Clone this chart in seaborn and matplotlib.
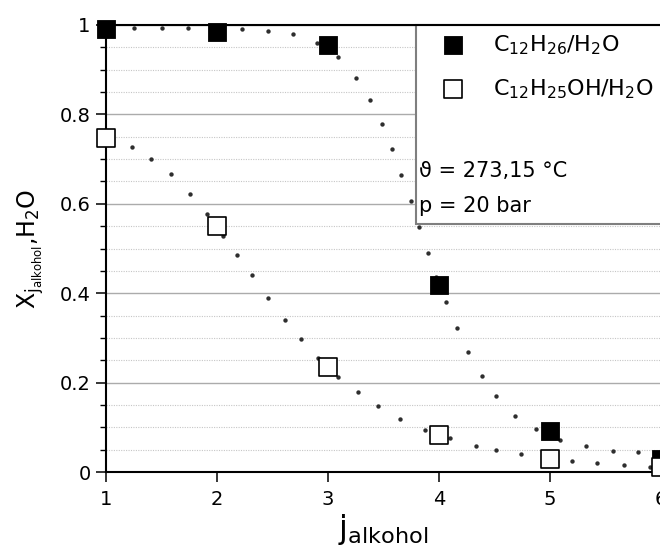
import matplotlib
matplotlib.use("Agg")
import matplotlib.pyplot as plt
from matplotlib.patches import Rectangle
from matplotlib.ticker import FixedLocator, MultipleLocator
import pandas as pd
import seaborn as sns

# Measured mole fractions at each alcohol index j
j_alkohol = [1, 2, 3, 4, 5, 6]
x_dodecane = [0.992, 0.985, 0.955, 0.418, 0.092, 0.030]
x_dodecanol = [0.748, 0.550, 0.236, 0.083, 0.029, 0.011]

# Model curves, sampled points
model_j_dodecane = [1.02, 1.255, 1.502, 1.737, 1.98, 2.229, 2.458, 2.686, 2.905, 3.092,
                    3.252, 3.380, 3.482, 3.576, 3.660, 3.744, 3.824, 3.899, 3.976,
                    4.066, 4.159, 4.264, 4.386, 4.515, 4.688, 4.875, 5.094, 5.321,
                    5.569, 5.792]
model_x_dodecane = [0.993, 0.993, 0.993, 0.993, 0.992, 0.990, 0.987, 0.979, 0.959, 0.928,
                    0.882, 0.832, 0.779, 0.723, 0.665, 0.607, 0.549, 0.491, 0.436,
                    0.380, 0.323, 0.268, 0.215, 0.170, 0.126, 0.096, 0.072, 0.058,
                    0.048, 0.044]
model_j_dodecanol = [1.232, 1.406, 1.586, 1.757, 1.908, 2.058, 2.184, 2.314, 2.463, 2.617,
                     2.758, 2.909, 3.087, 3.266, 3.450, 3.645, 3.870, 4.096, 4.330,
                     4.517, 4.742, 4.977, 5.202, 5.425, 5.671, 5.899]
model_x_dodecanol = [0.726, 0.701, 0.666, 0.623, 0.578, 0.528, 0.485, 0.441, 0.390, 0.340,
                     0.298, 0.256, 0.213, 0.178, 0.148, 0.119, 0.094, 0.075, 0.059,
                     0.049, 0.040, 0.031, 0.025, 0.020, 0.015, 0.011]

series_labels = [r"C$_{12}$H$_{26}$/H$_2$O", r"C$_{12}$H$_{25}$OH/H$_2$O"]
y_ticks = [0, 0.2, 0.4, 0.6, 0.8, 1.0]
y_tick_labels = ["0", "0.2", "0.4", "0.6", "0.8", "1"]
x_ticks = [1, 2, 3, 4, 5, 6]
conditions = ["\u03d1 = 273,15 \u00b0C", "p = 20 bar"]

measured = pd.DataFrame({"j": j_alkohol, "dodecane": x_dodecane, "dodecanol": x_dodecanol})
curve_a = pd.DataFrame({"j": model_j_dodecane, "x": model_x_dodecane})
curve_b = pd.DataFrame({"j": model_j_dodecanol, "x": model_x_dodecanol})

sns.set_style("ticks")
plt.rcParams["font.family"] = ["DejaVu Sans"]
plt.rcParams["mathtext.default"] = "regular"
plt.rcParams["text.color"] = "black"
plt.rcParams["axes.labelcolor"] = "black"
plt.rcParams["xtick.color"] = "black"
plt.rcParams["ytick.color"] = "black"

W, H = 660, 552
fig = plt.figure(figsize=(W / 100, H / 100), dpi=100)
ax = fig.add_axes([106 / W, 80 / H, 555 / W, 447 / H])

# dotted model curves
for df in (curve_a, curve_b):
    sns.scatterplot(data=df, x="j", y="x", ax=ax, marker="o", s=10, color="#2e2e2e",
                    linewidth=0, zorder=3, legend=False)

# measured points
sns.scatterplot(data=measured, x="j", y="dodecane", ax=ax, marker="s", s=13.2 ** 2,
                color="black", edgecolor="black", linewidth=0.6, zorder=7, legend=False)
h_filled = ax.collections[-1]
sns.scatterplot(data=measured, x="j", y="dodecanol", ax=ax, marker="s", s=12.6 ** 2,
                facecolor="white", edgecolor="black", linewidth=1.2, zorder=8, legend=False)
h_open = ax.collections[-1]
for c in (h_filled, h_open):
    c.set_clip_on(False)

ax.set_xlim(1, 6)
ax.set_ylim(0, 1)
ax.xaxis.set_major_locator(FixedLocator(x_ticks))
ax.set_xticklabels([str(t) for t in x_ticks])
ax.yaxis.set_major_locator(FixedLocator(y_ticks))
ax.set_yticklabels(y_tick_labels)
ax.yaxis.set_minor_locator(MultipleLocator(0.05))

ax.tick_params(axis="both", which="major", direction="out", length=7, width=1.1,
               labelsize=14, color="black", labelcolor="black", pad=4)
ax.tick_params(axis="y", which="minor", direction="out", length=4.5, width=1.0,
               color="black")
ax.tick_params(axis="x", pad=6)

ax.set_axisbelow(True)
ax.yaxis.grid(True, which="major", color="#ababab", linewidth=1.0, linestyle="-")
ax.yaxis.grid(True, which="minor", color="#c6c6c6", linewidth=0.8, linestyle=(0, (1, 1.2)))
ax.xaxis.grid(False)

for side in ("left", "bottom", "top"):
    ax.spines[side].set_visible(True)
    ax.spines[side].set_color("black")
    ax.spines[side].set_linewidth(1.5)
    ax.spines[side].set_zorder(6)
ax.spines["right"].set_visible(False)

ax.set_xlabel(r"j$_{\mathrm{alkohol}}$", fontsize=23, labelpad=2, color="black")
ax.set_ylabel(r"X$_{j_{\mathrm{alkohol}}}$,H$_2$O", fontsize=17, labelpad=10,
              color="black")

# legend box with the run conditions
box = Rectangle((310 / 555, 248 / 447), 0.6, 1 - 248 / 447, transform=ax.transAxes,
                facecolor="white", edgecolor="#7f7f7f", linewidth=1.5, zorder=5,
                clip_on=False)
ax.add_patch(box)

leg = ax.legend([h_filled, h_open], series_labels, loc="upper left",
                bbox_to_anchor=(442 / W, (H - 33) / H), bbox_transform=fig.transFigure,
                frameon=False, fontsize=16, handlelength=1.0, handletextpad=1.3,
                labelspacing=0.93, borderpad=0, borderaxespad=0)
leg.set_zorder(9)
for t in leg.get_texts():
    t.set_color("black")

for txt, ypx in zip(conditions, (171, 206)):
    fig.text(419 / W, (H - ypx) / H, txt, fontsize=15, ha="left", va="center",
             color="black", zorder=9)

fig.savefig("out.png", dpi=100)
